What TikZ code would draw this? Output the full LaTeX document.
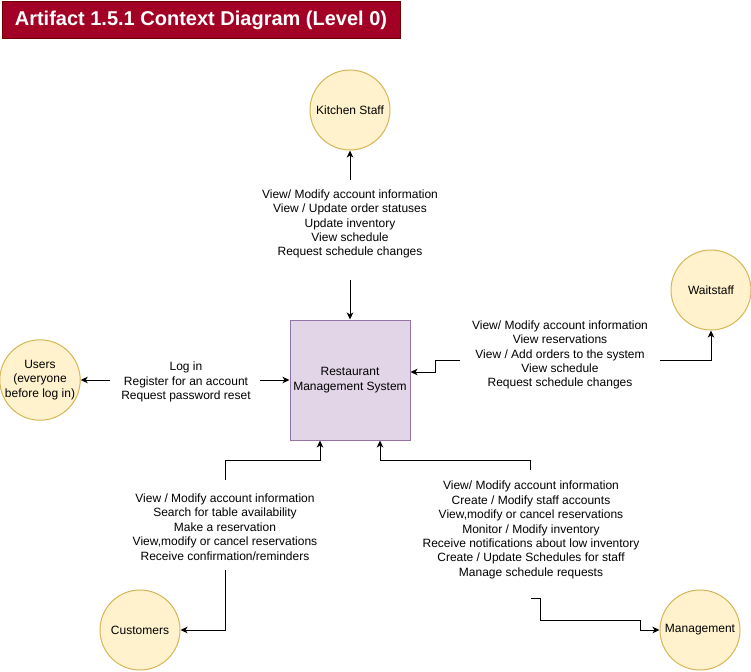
\documentclass[tikz,border=0pt]{standalone}
\usepackage{fontspec}
\setmainfont{Liberation Sans}
\usetikzlibrary{arrows.meta}
\definecolor{titlefill}{HTML}{A20025}
\definecolor{titledraw}{HTML}{6F0000}
\definecolor{entfill}{HTML}{FFF2CC}
\definecolor{entdraw}{HTML}{D6B656}
\definecolor{sysfill}{HTML}{E1D5E7}
\definecolor{sysdraw}{HTML}{9673A6}
\begin{document}
\begin{tikzpicture}[x=1pt,y=-1pt,
  ent/.style={circle,draw=entdraw,fill=entfill,line width=1pt,minimum size=80pt,inner sep=0pt,align=center,font=\fontsize{12}{14.4}\selectfont},
  lbl/.style={align=center,font=\fontsize{12}{14.4}\selectfont,inner sep=0pt},
  conn/.style={draw=black,line width=1pt},
  arr/.style={conn,-{Stealth[length=7pt,width=6.5pt,inset=2pt]}}]
\useasboundingbox[fill=white] (0,0) rectangle (751,671);
\node[draw=titledraw,fill=titlefill,line width=1pt,text=white,font=\bfseries\fontsize{20}{24}\selectfont,minimum width=398pt,minimum height=37pt,inner sep=0pt] (title) at (201,20.5) {Artifact 1.5.1 Context Diagram (Level 0)};

\node[ent] (kitchen) at (350,110) {Kitchen Staff};
\node[ent] (waitstaff) at (711,290) {Waitstaff};
\node[ent] (users) at (40,380) {Users\\(everyone\\before log in)};
\node[ent] (customers) at (140,630) {Customers};
\node[ent] (management) at (700,630) {Management};
\node[draw=sysdraw,fill=sysfill,line width=1pt,minimum size=120pt,inner sep=0pt,align=center,font=\fontsize{12}{14.4}\selectfont] (sys) at (350,380) {Restaurant\\Management System};

% Kitchen
\node[lbl] (klbl) at (350,224) {View/ Modify account information\\View / Update order statuses\\Update inventory\\View schedule\\Request schedule changes};
\coordinate (k1) at (350,180);
\coordinate (k2) at (350,280);
\draw[arr] (k1) -- (kitchen.south);
\draw[arr] (k2) -- (sys.north);

% Users
\node[lbl] (ulbl) at (186,382) {Log in\\Register for an account\\Request password reset};
\coordinate (u1) at (110,380);
\coordinate (u2) at (260,380);
\draw[arr] (u1) -- (users.east);
\draw[arr] (u2) -- (sys.west);

% Waitstaff
\node[lbl] (wlbl) at (560,355) {View/ Modify account information\\View reservations\\View / Add orders to the system\\View schedule\\Request schedule changes};
\coordinate (w1) at (460,360);
\coordinate (w2) at (435,372);
\coordinate (w3) at (660,360);
\draw[arr] (w1) -| (w2) -- (sys.east |- w2);
\draw[arr] (w3) -| (waitstaff.south);

% Customers
\node[lbl] (clbl) at (225,527) {View / Modify account information\\Search for table availability\\Make a reservation\\View,modify or cancel reservations\\Receive confirmation/reminders};
\coordinate (c1) at (225,480);
\coordinate (c2) at (320,460);
\coordinate (c3) at (225,570);
\draw[arr] (c1) |- (c2) -- (c2 |- sys.south);
\draw[arr] (c3) |- (customers.east);

% Management
\node[lbl] (mlbl) at (531,530) {View/ Modify account information\\Create / Modify staff accounts\\View,modify or cancel reservations\\Monitor / Modify inventory\\Receive notifications about low inventory\\Create / Update Schedules for staff\\Manage schedule requests};
\coordinate (m1) at (530,470);
\coordinate (m2) at (380,460);
\coordinate (m3) at (531,598);
\coordinate (m4) at (540,620);
\coordinate (m5) at (640,630);
\draw[arr] (m1) |- (m2) -- (m2 |- sys.south);
\draw[arr] (m3) -| (m4) -| (m5) -- (management.west);
\end{tikzpicture}
\end{document}
